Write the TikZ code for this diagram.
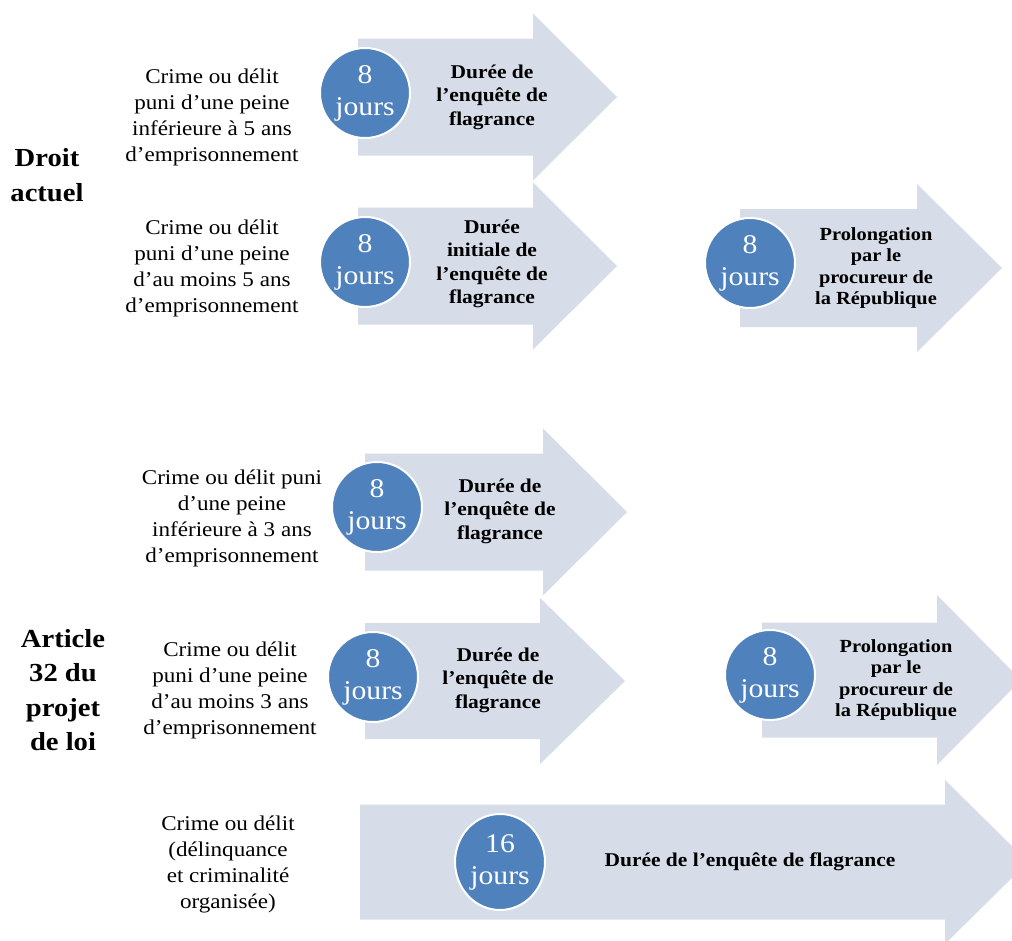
\documentclass[tikz,border=0pt]{standalone}
\usepackage{fontspec}
\setmainfont{Liberation Serif}[FakeStretch=1.1]
\usetikzlibrary{shapes.geometric}
\definecolor{arrowc}{RGB}{214,220,232}
\definecolor{badgec}{RGB}{79,129,189}
\newcommand\fleche[6]{% x0, xhead, xtip, yc, body half, head half
  \fill[arrowc] (#1,{#4-#5}) -- (#2,{#4-#5}) -- (#2,{#4-#6}) -- (#3,#4) -- (#2,{#4+#6}) -- (#2,{#4+#5}) -- (#1,{#4+#5}) -- cycle;}
\tikzset{
  badge/.style={circle, fill=badgec, draw=white, line width=2pt, minimum size=90pt, inner sep=0pt,
    text=white, font=\fontsize{27}{32}\selectfont, align=center},
  headtxt/.style={font=\bfseries\fontsize{19.5}{23.5}\selectfont, align=center, text=black},
  proltxt/.style={font=\bfseries\fontsize{18.5}{21.5}\selectfont, align=center, text=black},
  cond/.style={font=\fontsize{21}{26}\selectfont, align=center, text=black},
  side/.style={font=\bfseries\fontsize{26}{34.5}\selectfont, align=center, text=black},
}
\begin{document}
\begin{tikzpicture}[x=1pt,y=-1pt]
\useasboundingbox (0,0) rectangle (1012,940);
\fill[white] (0,0) rectangle (1012,940);
% arrows
\fleche{358}{533}{617}{97}{58.5}{83.5}
\fleche{358}{533}{617}{266}{58.5}{83.5}
\fleche{740}{917}{1002}{268}{59}{84}
\fleche{365}{543}{627}{512}{58.5}{83.5}
\fleche{365}{540}{625}{681}{58}{83}
\fleche{762}{937}{1021}{680}{57.5}{85}
\fleche{360}{945}{1028}{862}{57.5}{82}
% side labels
\node[side] (droit) at (47,175) {Droit\\actuel};
\node[side] (article) at (63,690) {Article\\32 du\\projet\\de loi};
% conditions
\node[cond] (c1) at (212,117) {Crime ou délit\\puni d’une peine\\inférieure à 5 ans\\d’emprisonnement};
\node[cond] (c2) at (212,268) {Crime ou délit\\puni d’une peine\\d’au moins 5 ans\\d’emprisonnement};
\node[cond] (c3) at (232,518) {Crime ou délit puni\\d’une peine\\inférieure à 3 ans\\d’emprisonnement};
\node[cond] (c4) at (230,690) {Crime ou délit\\puni d’une peine\\d’au moins 3 ans\\d’emprisonnement};
\node[cond] (c5) at (228,864) {Crime ou délit\\(délinquance\\et criminalité\\organisée)};
% badges
\node[badge] (b1) at (365,93) {8\\jours};
\node[badge] (b2) at (365,262) {8\\jours};
\node[badge] (b3) at (750,263) {8\\jours};
\node[badge] (b4) at (377,507) {8\\jours};
\node[badge] (b5) at (373,677) {8\\jours};
\node[badge] (b6) at (770,675) {8\\jours};
\node[badge, ellipse, minimum width=90pt, minimum height=96pt] (b7) at (500,862) {16\\jours};
% arrow texts
\node[headtxt] (t1) at (492,97) {Durée de\\l’enquête de\\flagrance};
\node[headtxt] (t2) at (492,264) {Durée\\initiale de\\l’enquête de\\flagrance};
\node[proltxt] (t3) at (876,268) {Prolongation\\par le\\procureur de\\la République};
\node[headtxt] (t4) at (500,511) {Durée de\\l’enquête de\\flagrance};
\node[headtxt] (t5) at (498,680) {Durée de\\l’enquête de\\flagrance};
\node[proltxt] (t6) at (896,680) {Prolongation\\par le\\procureur de\\la République};
\node[headtxt] (t7) at (750,862) {Durée de l’enquête de flagrance};
\end{tikzpicture}
\end{document}
